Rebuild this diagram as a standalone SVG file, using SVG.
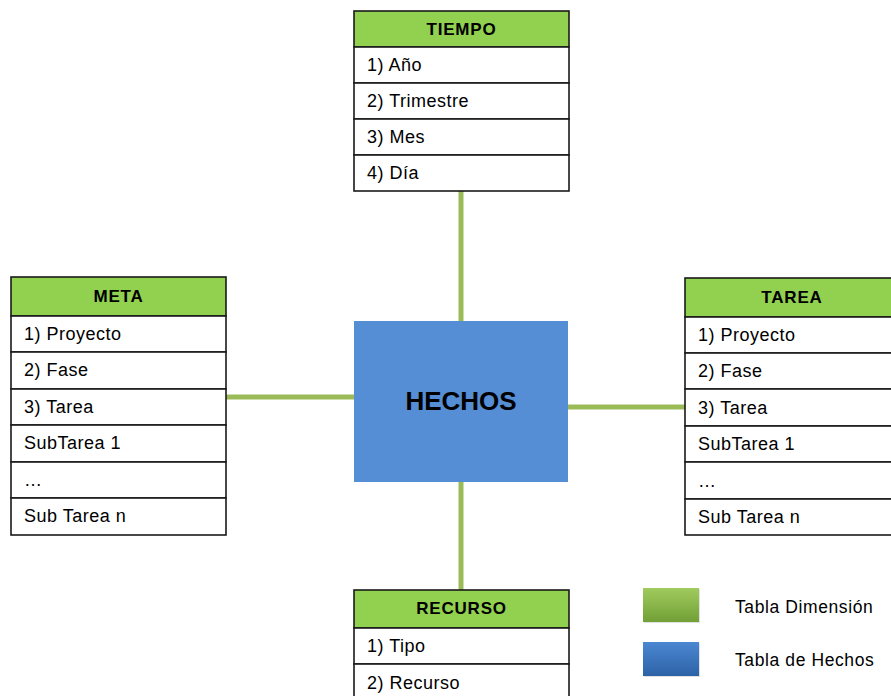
<svg xmlns="http://www.w3.org/2000/svg" width="891" height="696" viewBox="0 0 891 696">
  <style>
    .hdr { fill: #92D050; stroke: #1a1a1a; stroke-width: 1.6; }
    .row { fill: #ffffff; stroke: #1a1a1a; stroke-width: 1.6; }
    .ht { font-family: "Liberation Sans", Arial, sans-serif; font-size: 17px; font-weight: bold; fill: #000; text-anchor: middle; letter-spacing: 0.8px; }
    .rt { font-family: "Liberation Sans", Arial, sans-serif; font-size: 18px; fill: #000; letter-spacing: 0.5px; }
    .link { stroke: #9BBB59; stroke-width: 5; fill: none; }
    .lg { font-family: "Liberation Sans", Arial, sans-serif; font-size: 17.5px; fill: #000; letter-spacing: 0.6px; }
  </style>
  <defs>
    <linearGradient id="gGreen" x1="0" y1="0" x2="0" y2="1">
      <stop offset="0" stop-color="#A0CB5E"/>
      <stop offset="1" stop-color="#72A036"/>
    </linearGradient>
    <linearGradient id="gBlue" x1="0" y1="0" x2="0" y2="1">
      <stop offset="0" stop-color="#4B88D2"/>
      <stop offset="1" stop-color="#2D62A6"/>
    </linearGradient>
  </defs>
  <rect width="891" height="696" fill="#ffffff"/>

  <!-- connectors -->
  <g id="connectors">
    <line class="link" x1="461" y1="191" x2="461" y2="321"/>
    <line class="link" x1="226" y1="397" x2="354" y2="397"/>
    <line class="link" x1="568" y1="407" x2="685" y2="407"/>
    <line class="link" x1="461" y1="482" x2="461" y2="590"/>
  </g>

  <!-- fact table -->
  <g id="hechos">
    <rect x="354" y="321" width="214" height="161" fill="#558ED5"/>
    <text x="461" y="410" font-family="Liberation Sans, Arial, sans-serif" font-size="26" font-weight="bold" text-anchor="middle" fill="#000">HECHOS</text>
  </g>

  <!-- TIEMPO dimension -->
  <g id="tiempo">
    <rect class="hdr" x="354" y="11" width="215" height="36"/>
    <text class="ht" x="461.5" y="35">TIEMPO</text>
    <rect class="row" x="354" y="47" width="215" height="36"/>
    <text class="rt" x="367" y="71">1) Año</text>
    <rect class="row" x="354" y="83" width="215" height="36"/>
    <text class="rt" x="367" y="107">2) Trimestre</text>
    <rect class="row" x="354" y="119" width="215" height="36"/>
    <text class="rt" x="367" y="143">3) Mes</text>
    <rect class="row" x="354" y="155" width="215" height="36"/>
    <text class="rt" x="367" y="179">4) Día</text>
  </g>

  <!-- META dimension -->
  <g id="meta">
    <rect class="hdr" x="11" y="277" width="215" height="39"/>
    <text class="ht" x="118.5" y="302">META</text>
    <rect class="row" x="11" y="316" width="215" height="36"/>
    <text class="rt" x="24" y="340">1) Proyecto</text>
    <rect class="row" x="11" y="352" width="215" height="37"/>
    <text class="rt" x="24" y="376">2) Fase</text>
    <rect class="row" x="11" y="389" width="215" height="36"/>
    <text class="rt" x="24" y="413">3) Tarea</text>
    <rect class="row" x="11" y="425" width="215" height="37"/>
    <text class="rt" x="24" y="449">SubTarea 1</text>
    <rect class="row" x="11" y="462" width="215" height="36"/>
    <text class="rt" x="24" y="486">…</text>
    <rect class="row" x="11" y="498" width="215" height="37"/>
    <text class="rt" x="24" y="522">Sub Tarea n</text>
  </g>

  <!-- TAREA dimension -->
  <g id="tarea">
    <rect class="hdr" x="685" y="278" width="215" height="39"/>
    <text class="ht" x="792" y="303">TAREA</text>
    <rect class="row" x="685" y="317" width="215" height="36"/>
    <text class="rt" x="698" y="341">1) Proyecto</text>
    <rect class="row" x="685" y="353" width="215" height="36"/>
    <text class="rt" x="698" y="377">2) Fase</text>
    <rect class="row" x="685" y="389" width="215" height="37"/>
    <text class="rt" x="698" y="414">3) Tarea</text>
    <rect class="row" x="685" y="426" width="215" height="36"/>
    <text class="rt" x="698" y="450">SubTarea 1</text>
    <rect class="row" x="685" y="462" width="215" height="37"/>
    <text class="rt" x="698" y="487">…</text>
    <rect class="row" x="685" y="499" width="215" height="36"/>
    <text class="rt" x="698" y="523">Sub Tarea n</text>
  </g>

  <!-- RECURSO dimension -->
  <g id="recurso">
    <rect class="hdr" x="354" y="590" width="215" height="38"/>
    <text class="ht" x="461.5" y="614">RECURSO</text>
    <rect class="row" x="354" y="628" width="215" height="36"/>
    <text class="rt" x="367" y="652">1) Tipo</text>
    <rect class="row" x="354" y="664" width="215" height="40"/>
    <text class="rt" x="367" y="689">2) Recurso</text>
  </g>

  <!-- legend -->
  <g id="legend">
    <rect x="644" y="589" width="56" height="34" fill="#000" opacity="0.12"/>
    <rect x="643" y="588" width="56" height="34" fill="url(#gGreen)"/>
    <text class="lg" x="735" y="613">Tabla Dimensión</text>
    <rect x="644" y="643" width="56" height="34" fill="#000" opacity="0.12"/>
    <rect x="643" y="642" width="56" height="34" fill="url(#gBlue)"/>
    <text class="lg" x="735" y="666">Tabla de Hechos</text>
  </g>
</svg>
